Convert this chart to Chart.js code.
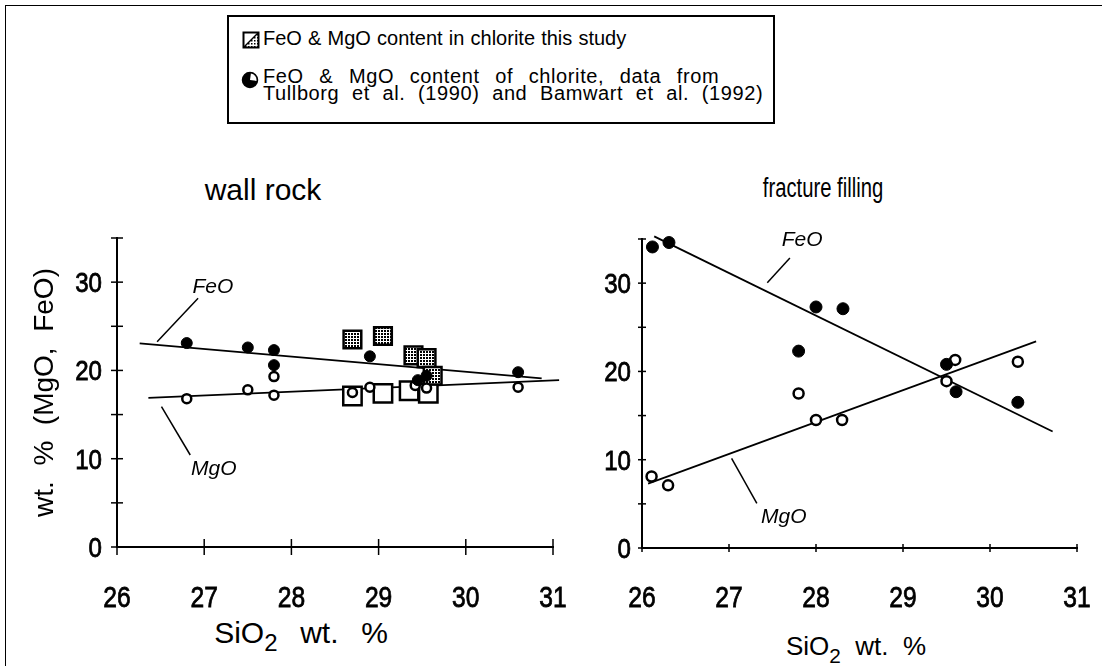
<!DOCTYPE html>
<html>
<head>
<meta charset="utf-8">
<script src="https://cdn.jsdelivr.net/npm/chart.js@4.4.1/dist/chart.umd.min.js"></script>
<style>
  html, body { margin: 0; padding: 0; background: #fff; }
  #page { position: relative; width: 1102px; height: 666px; overflow: hidden;
          font-family: "Liberation Sans", Arial, Helvetica, sans-serif; color: #000; }
  #frame { position: absolute; left: 5px; top: 5px; width: 1300px; height: 800px;
           border-left: 1.5px solid #000; border-top: 1.5px solid #000; }
  #legend { position: absolute; left: 227px; top: 15px; width: 548px; height: 109px;
            border: 2px solid #000; box-sizing: border-box; }
  .txt { position: absolute; white-space: pre; line-height: 1; }
  .ctr { transform: translateX(-50%); }
  .narrow { transform: translateX(-50%) scaleX(0.75); transform-origin: 50% 50%; }
  .sub { position: relative; top: 8px; font-size: 0.8em; }
  canvas { position: absolute; top: 0; }
  #wall { left: 0; }
  #frac { left: 570px; }
  svg { position: absolute; }
</style>
</head>
<body>
<div id="page">
  <div id="frame"></div>
  <div id="legend"></div>

  <svg style="left:242px;top:31px" width="18" height="18" viewBox="0 0 18 18">
    <defs>
      <pattern id="dots" width="3" height="3" patternUnits="userSpaceOnUse">
        <rect width="3" height="3" fill="#fff"/><rect width="1.5" height="1.5" fill="#000"/>
      </pattern>
    </defs>
    <polygon points="16.5,1.5 16.5,16.5 1.5,16.5" fill="url(#dots)"/>
    <rect x="1.5" y="1.5" width="15" height="15" fill="none" stroke="#000" stroke-width="2"/>
    <line x1="1.5" y1="16.5" x2="16.5" y2="1.5" stroke="#000" stroke-width="1.5"/>
  </svg>
  <svg style="left:241px;top:71px" width="18" height="18" viewBox="0 0 18 18">
    <circle cx="9" cy="9" r="7.5" fill="#000" stroke="#000" stroke-width="1.5"/>
    <path d="M 9 2.5 A 6.5 6.5 0 0 1 15.5 9 L 9 9 Z" fill="#fff" transform="rotate(8 9 9)"/>
  </svg>

  <div class="txt" style="left:263px;top:28px;font-size:20px;word-spacing:0.6px">FeO &amp; MgO content in chlorite this study</div>
  <div class="txt" style="left:263px;top:66px;font-size:20px;letter-spacing:0.6px;word-spacing:9.5px">FeO &amp; MgO content of chlorite, data from</div>
  <div class="txt" style="left:263px;top:83px;font-size:20px;letter-spacing:0.6px;word-spacing:6.5px">Tullborg et al. (1990) and Bamwart et al. (1992)</div>

  <div class="txt ctr" style="left:263px;top:175px;font-size:30px">wall rock</div>
  <div class="txt narrow" style="left:823px;top:175px;font-size:27px">fracture filling</div>

  <div class="txt ctr" style="left:301px;top:618px;font-size:30px;word-spacing:3px">SiO<span class="sub">2</span>  wt.  %</div>
  <div class="txt ctr" style="left:856px;top:633px;font-size:26px">SiO<span class="sub">2</span>  wt.  %</div>

  <canvas id="wall" width="580" height="666"></canvas>
  <canvas id="frac" width="532" height="666"></canvas>
</div>

<script>
// ---- wall rock: chlorite analyses (SiO2 vs oxide wt.%) ----
const wallFeoLitSi  = [26.8, 27.5, 27.8, 27.8, 28.9, 29.45, 29.55, 30.6];
const wallFeoLitVal = [23.1, 22.6, 22.3, 20.6, 21.6, 18.9, 19.4, 19.8];
const wallMgoLitSi  = [26.8, 27.5, 27.8, 27.8, 28.7, 28.9, 29.42, 29.55, 30.6];
const wallMgoLitVal = [16.8, 17.8, 17.2, 19.3, 17.5, 18.1, 18.3, 18.0, 18.1];
const wallFeoStudySi  = [28.7, 29.05, 29.4, 29.55, 29.62];
const wallFeoStudyVal = [23.5, 23.9, 21.7, 21.4, 19.4];
const wallMgoStudySi  = [28.7, 29.05, 29.35, 29.57];
const wallMgoStudyVal = [17.1, 17.4, 17.7, 17.4];
// regression lines (end points)
const wallFeoTrendSi  = [26.26, 30.87];
const wallFeoTrendVal = [23.07, 19.1];
const wallMgoTrendSi  = [26.36, 31.07];
const wallMgoTrendVal = [16.9, 18.9];

// ---- fracture filling ----
const fracFeoSi  = [26.12, 26.31, 27.8, 28.0, 28.31, 29.5, 29.61, 30.32];
const fracFeoVal = [34.1, 34.6, 22.3, 27.3, 27.1, 20.8, 17.7, 16.5];
const fracMgoSi  = [26.11, 26.3, 27.8, 28.0, 28.3, 29.5, 29.6, 30.32];
const fracMgoVal = [8.1, 7.1, 17.5, 14.5, 14.5, 18.9, 21.3, 21.1];
const fracFeoTrendSi  = [26.14, 30.72];
const fracFeoTrendVal = [35.3, 13.2];
const fracMgoTrendSi  = [26.07, 30.53];
const fracMgoTrendVal = [7.3, 23.4];

// axis ticks
const siTicks = [26, 27, 28, 29, 30, 31];
const wtTicks = [0, 5, 10, 15, 20, 25, 30, 35];
const wtLabels = [0, 10, 20, 30];

const pts = (xs, ys) => xs.map((x, i) => ({ x: x, y: ys[i] }));

// line labels with their leader lines, in data units
const wallNotes = [
  { text: 'FeO', at: [27.1, 29.4], leader: [[26.93, 28.17], [26.46, 23.25]] },
  { text: 'MgO', at: [27.11, 8.8], leader: [[26.51, 15.9], [26.84, 10.42]] }
];
const fracNotes = [
  { text: 'FeO', at: [27.84, 34.9], leader: [[27.70, 32.84], [27.44, 30.05]] },
  { text: 'MgO', at: [27.63, 3.5], leader: [[27.03, 10.16], [27.32, 5.06]] }
];

const sans = '"Liberation Sans", Arial, Helvetica, sans-serif';

function dotPattern() {
  const c = document.createElement('canvas');
  c.width = 3; c.height = 3;
  const g = c.getContext('2d');
  g.fillStyle = '#fff'; g.fillRect(0, 0, 3, 3);
  g.fillStyle = '#000'; g.fillRect(0, 0, 2, 2);
  return g.createPattern(c, 'repeat');
}

// condensed text, slightly heavier, for tick labels
function condensed(ctx, text, x, y, size, squeeze, align) {
  ctx.save();
  ctx.translate(x, y);
  ctx.scale(squeeze, 1);
  ctx.font = size + 'px ' + sans;
  ctx.textAlign = align;
  ctx.textBaseline = 'alphabetic';
  ctx.fillText(text, 0, 0);
  ctx.lineWidth = 0.8;
  ctx.strokeText(text, 0, 0);
  ctx.restore();
}

// ticks crossing the axis lines, tick labels, italic line labels
const axisDecor = {
  id: 'axisDecor',
  afterDatasetsDraw(chart, args, o) {
    const { ctx, chartArea, scales: { x, y } } = chart;
    ctx.save();
    ctx.strokeStyle = '#000';
    ctx.fillStyle = '#000';
    ctx.lineWidth = 1.5;
    x.ticks.forEach(t => {
      const px = x.getPixelForValue(t.value);
      ctx.beginPath();
      ctx.moveTo(px, chartArea.bottom - o.xLen);
      ctx.lineTo(px, chartArea.bottom + o.xLen);
      ctx.stroke();
      condensed(ctx, String(t.value), px, chartArea.bottom + o.xBase, 30, 0.82, 'center');
    });
    y.ticks.forEach(t => {
      const py = y.getPixelForValue(t.value);
      ctx.beginPath();
      ctx.moveTo(chartArea.left - o.yLen, py);
      ctx.lineTo(chartArea.left + o.yLen, py);
      ctx.stroke();
      if (wtLabels.includes(t.value)) {
        condensed(ctx, String(t.value), chartArea.left - o.yGap, py + 10, 28, 0.86, 'right');
      }
    });
    ctx.font = 'italic 21px ' + sans;
    ctx.textAlign = 'center';
    ctx.textBaseline = 'middle';
    (o.notes || []).forEach(n => {
      ctx.fillText(n.text, x.getPixelForValue(n.at[0]), y.getPixelForValue(n.at[1]));
    });
    ctx.restore();
  }
};

function scatterSet(data, opts) {
  return Object.assign({ type: 'scatter', data: data, showLine: false, clip: false }, opts);
}
function lineSet(data, width) {
  return { type: 'scatter', data: data, showLine: true, pointRadius: 0, borderColor: '#000',
           borderWidth: width, clip: false, fill: false };
}

function makeChart(id, datasets, cfg) {
  return new Chart(document.getElementById(id), {
    type: 'scatter',
    data: { datasets: datasets },
    options: {
      responsive: false,
      animation: false,
      events: [],
      layout: { padding: { left: 0, top: cfg.top, right: cfg.right, bottom: 0 } },
      plugins: { legend: { display: false }, tooltip: { enabled: false }, axisDecor: cfg.decor },
      scales: {
        x: {
          type: 'linear', min: 26, max: 31,
          afterFit: s => { s.height = cfg.xHeight; },
          afterBuildTicks: s => { s.ticks = siTicks.map(v => ({ value: v })); },
          ticks: { display: false },
          grid: { display: false, drawTicks: false },
          border: { display: true, color: '#000', width: 2 }
        },
        y: {
          type: 'linear', min: 0, max: 35,
          afterFit: s => { s.width = cfg.yWidth; },
          afterBuildTicks: s => { s.ticks = wtTicks.map(v => ({ value: v })); },
          ticks: { display: false },
          grid: { display: false, drawTicks: false },
          border: { display: true, color: '#000', width: 2 },
          title: cfg.yTitle
        }
      }
    },
    plugins: [axisDecor]
  });
}

const shade = dotPattern();

const leaderSets = notes => notes.map(n => lineSet(n.leader.map(p => ({ x: p[0], y: p[1] })), 1.5));

makeChart('wall', [
  scatterSet(pts(wallFeoLitSi, wallFeoLitVal), { pointStyle: 'circle', pointRadius: 5.5,
    backgroundColor: '#000', borderColor: '#000', borderWidth: 1 }),
  scatterSet(pts(wallMgoLitSi, wallMgoLitVal), { pointStyle: 'circle', pointRadius: 4.5,
    backgroundColor: '#fff', borderColor: '#000', borderWidth: 2.5 }),
  scatterSet(pts(wallFeoStudySi, wallFeoStudyVal), { pointStyle: 'rect', pointRadius: 12.5,
    backgroundColor: shade, borderColor: '#000', borderWidth: 2.5 }),
  scatterSet(pts(wallMgoStudySi, wallMgoStudyVal), { pointStyle: 'rect', pointRadius: 13,
    backgroundColor: '#fff', borderColor: '#000', borderWidth: 2.5 }),
  lineSet(pts(wallFeoTrendSi, wallFeoTrendVal), 1.8),
  lineSet(pts(wallMgoTrendSi, wallMgoTrendVal), 1.8),
  ...leaderSets(wallNotes)
], {
  top: 238, right: 27, xHeight: 119, yWidth: 117,
  decor: { xLen: 8, yLen: 6, xBase: 60, yGap: 15, notes: wallNotes },
  yTitle: { display: true, text: 'wt.  %  (MgO,  FeO)', color: '#000',
            font: { family: sans, size: 28 },
            padding: { top: 28, bottom: 0 } }
});

makeChart('frac', [
  scatterSet(pts(fracFeoSi, fracFeoVal), { pointStyle: 'circle', pointRadius: 6,
    backgroundColor: '#000', borderColor: '#000', borderWidth: 1 }),
  scatterSet(pts(fracMgoSi, fracMgoVal), { pointStyle: 'circle', pointRadius: 5,
    backgroundColor: '#fff', borderColor: '#000', borderWidth: 2.5 }),
  lineSet(pts(fracFeoTrendSi, fracFeoTrendVal), 1.8),
  lineSet(pts(fracMgoTrendSi, fracMgoTrendVal), 1.8),
  ...leaderSets(fracNotes)
], {
  top: 239, right: 25, xHeight: 118, yWidth: 72,
  decor: { xLen: 4, yLen: 4, xBase: 59, yGap: 11, notes: fracNotes },
  yTitle: { display: false }
});
</script>
</body>
</html>
